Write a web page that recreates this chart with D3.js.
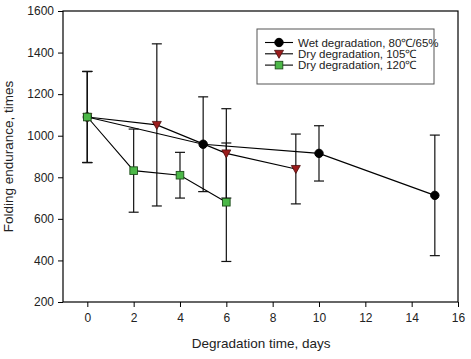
<html>
<head>
<script src="https://d3js.org/d3.v7.min.js"></script>
<style>
  body { margin: 0; background: #fff; }
  text { font-family: "Liberation Sans", Arial, sans-serif; }
</style>
</head>
<body>
<div id="my_dataviz"></div>
<script>
// data
var seriesNames = ["Wet degradation, 80\u2103/65%", "Dry degradation, 105\u2103", "Dry degradation, 120\u2103"];

var wetDays = [0, 5, 10, 15];
var wetValues = [1090, 959, 915, 713];
var wetErrors = [219, 228, 133, 290];

var dry105Days = [0, 3, 6, 9];
var dry105Values = [1090, 1052, 915, 840];
var dry105Errors = [219, 390, 215, 168];

var dry120Days = [0, 2, 4, 6];
var dry120Values = [1090, 832, 810, 680];
var dry120Errors = [219, 200, 110, 285];

var xTicks = [0, 2, 4, 6, 8, 10, 12, 14, 16];
var yTicks = [200, 400, 600, 800, 1000, 1200, 1400, 1600];

function toPoints(days, values, errors) {
  return days.map(function(d, i) { return {x: d, y: values[i], e: errors[i]}; });
}
var series = [
  {name: seriesNames[0], points: toPoints(wetDays, wetValues, wetErrors), marker: "circle", fill: "#000000"},
  {name: seriesNames[1], points: toPoints(dry105Days, dry105Values, dry105Errors), marker: "tri", fill: "#9b1c1c"},
  {name: seriesNames[2], points: toPoints(dry120Days, dry120Values, dry120Errors), marker: "square", fill: "#4cb848"}
];

var margin = {top: 11, right: 13, bottom: 57, left: 63},
    width = 471 - margin.left - margin.right,
    height = 359 - margin.top - margin.bottom;

var svg = d3.select("#my_dataviz")
  .append("svg")
    .attr("width", 471)
    .attr("height", 359)
  .append("g")
    .attr("transform", "translate(" + margin.left + "," + margin.top + ")");

var x = d3.scaleLinear().domain([-1.05, 16]).range([0, width]);
var y = d3.scaleLinear().domain([200, 1600]).range([height, 0]);

// frame
svg.append("rect")
  .attr("width", width).attr("height", height)
  .attr("fill", "none").attr("stroke", "#000").attr("stroke-width", 1.2);

var xAxis = svg.append("g")
  .attr("transform", "translate(0," + height + ")")
  .call(d3.axisBottom(x).tickValues(xTicks).tickFormat(d3.format("d")).tickSize(5).tickPadding(6));
var yAxis = svg.append("g")
  .call(d3.axisLeft(y).tickValues(yTicks).tickFormat(d3.format("d")).tickSize(5).tickPadding(4));
[xAxis, yAxis].forEach(function(a) {
  a.select(".domain").remove();
  a.selectAll("text").style("font-size", "12px").attr("fill", "#222");
  a.selectAll("line").attr("stroke", "#000");
});

// axis titles
svg.append("text")
  .attr("x", x(7.5)).attr("y", height + 46)
  .attr("text-anchor", "middle").style("font-size", "13.5px").attr("fill", "#222")
  .text("Degradation time, days");
svg.append("text")
  .attr("transform", "translate(-50," + (height / 2) + ")rotate(-90)")
  .attr("text-anchor", "middle").style("font-size", "13.5px").attr("fill", "#222")
  .text("Folding endurance, times");

// error bars
var line = d3.line().x(function(d) { return x(d.x); }).y(function(d) { return y(d.y); });
series.forEach(function(s) {
  var g = svg.append("g");
  s.points.forEach(function(p) {
    g.append("line")
      .attr("x1", x(p.x)).attr("x2", x(p.x))
      .attr("y1", y(p.y - p.e)).attr("y2", y(p.y + p.e))
      .attr("stroke", "#111").attr("stroke-width", 1.2);
    [p.y - p.e, p.y + p.e].forEach(function(v) {
      g.append("line")
        .attr("x1", x(p.x) - 5).attr("x2", x(p.x) + 5)
        .attr("y1", y(v)).attr("y2", y(v))
        .attr("stroke", "#111").attr("stroke-width", 1.2);
    });
  });
});

// lines
series.forEach(function(s) {
  svg.append("path")
    .datum(s.points)
    .attr("d", line)
    .attr("fill", "none").attr("stroke", "#000").attr("stroke-width", 1.1);
});

function drawMarker(g, s, cx, cy) {
  if (s.marker === "circle") {
    g.append("circle").attr("cx", cx).attr("cy", cy).attr("r", 4.2)
      .attr("fill", s.fill).attr("stroke", "#000");
  } else if (s.marker === "tri") {
    g.append("path")
      .attr("d", "M" + (cx - 4.5) + "," + (cy - 3.5) + "L" + (cx + 4.5) + "," + (cy - 3.5) + "L" + cx + "," + (cy + 4.5) + "Z")
      .attr("fill", s.fill).attr("stroke", "#4a0d0d").attr("stroke-width", 0.8);
  } else {
    g.append("rect").attr("x", cx - 3.8).attr("y", cy - 3.8).attr("width", 7.6).attr("height", 7.6)
      .attr("fill", s.fill).attr("stroke", "#1d4d1a").attr("stroke-width", 0.9);
  }
}

// markers
series.forEach(function(s) {
  var g = svg.append("g");
  s.points.forEach(function(p) { drawMarker(g, s, x(p.x), y(p.y)); });
});

// legend
var legend = svg.append("g").attr("transform", "translate(194,18)");
legend.append("rect")
  .attr("width", 177).attr("height", 55)
  .attr("fill", "#fff").attr("stroke", "#555").attr("stroke-width", 1);
series.forEach(function(s, i) {
  var ly = 13.5 + i * 11.3;
  legend.append("line").attr("x1", 8).attr("x2", 36).attr("y1", ly).attr("y2", ly)
    .attr("stroke", "#000").attr("stroke-width", 1.1);
  drawMarker(legend, s, 22, ly);
  legend.append("text").attr("x", 41).attr("y", ly + 4)
    .style("font-size", "11.5px").attr("fill", "#222")
    .text(s.name);
});
</script>
</body>
</html>
